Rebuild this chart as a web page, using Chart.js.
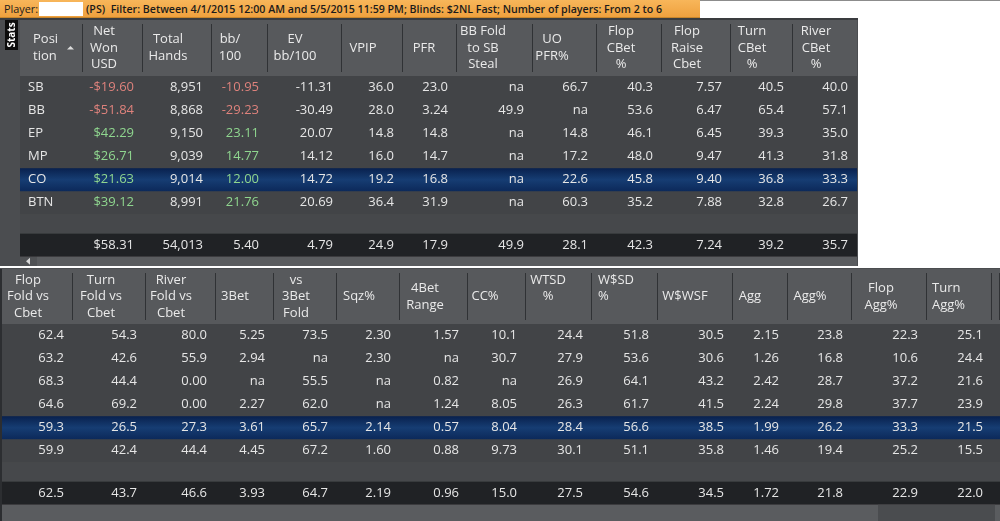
<!DOCTYPE html>
<html>
<head>
<meta charset="utf-8">
<title>Stats by position</title>
<script src="https://cdn.jsdelivr.net/npm/chart.js@4.4.0/dist/chart.umd.min.js"></script>
<style>
    html, body { margin: 0; padding: 0; width: 1000px; height: 521px; overflow: hidden; background: #fff; }
    #filter-bar {
        position: absolute; left: 0; top: 0; width: 700px; height: 18px;
        background: linear-gradient(#f8b65a, #efa13e); border-bottom: 1px solid #c8862c; box-sizing: border-box;
        font-family: "Open Sans", sans-serif; color: #1b1b1b; white-space: pre;
    }
    #filter-bar span { position: absolute; top: 0; line-height: 17px; transform-origin: 0 50%; }
    #player-label { left: 4px; font-size: 11.5px; }
    #player-box { position: absolute; left: 39px; top: 2px; width: 44px; height: 14px; background: #fff; }
    #filter-text { left: 86px; font-size: 11.5px; font-weight: 600; }
    #top-line { position: absolute; left: 700px; top: 0; width: 300px; height: 1px; background: #8c8c8c; }
    canvas { position: absolute; left: 0; }
    #top-table { top: 18px; }
    #bottom-table { top: 268px; }
</style>
</head>
<body>
<div id="filter-bar">
    <span id="player-label">Player:</span>
    <div id="player-box"></div>
    <span id="filter-text">(PS)  Filter: Between 4/1/2015 12:00 AM and 5/5/2015 11:59 PM; Blinds: $2NL Fast; Number of players: From 2 to 6</span>
</div>
<div id="top-line"></div>
<canvas id="top-table" width="858" height="248"></canvas>
<canvas id="bottom-table" width="1000" height="253"></canvas>

<script>
// --- DATA ---
const positions = ['SB', 'BB', 'EP', 'MP', 'CO', 'BTN'];
const selectedPosition = 'CO';

// upper grid
const topHeaders = ['Posi\ntion', 'Net\nWon\nUSD', 'Total\nHands', 'bb/\n100', 'EV\nbb/100', 'VPIP', 'PFR',
    'BB Fold\nto SB\nSteal', 'UO\nPFR%', 'Flop\nCBet\n%', 'Flop\nRaise\nCbet', 'Turn\nCBet\n%', 'River\nCBet\n%'];
const netWonUsd = [-19.60, -51.84, 42.29, 26.71, 21.63, 39.12];
const totalHands = [8951, 8868, 9150, 9039, 9014, 8991];
const bbPer100 = [-10.95, -29.23, 23.11, 14.77, 12.00, 21.76];
const evBbPer100 = [-11.31, -30.49, 20.07, 14.12, 14.72, 20.69];
const vpip = [36.0, 28.0, 14.8, 16.0, 19.2, 36.4];
const pfr = [23.0, 3.24, 14.8, 14.7, 16.8, 31.9];
const bbFoldToSbSteal = [null, 49.9, null, null, null, null];
const uoPfr = [66.7, null, 14.8, 17.2, 22.6, 60.3];
const flopCbet = [40.3, 53.6, 46.1, 48.0, 45.8, 35.2];
const flopRaiseCbet = [7.57, 6.47, 6.45, 9.47, 9.40, 7.88];
const turnCbet = [40.5, 65.4, 39.3, 41.3, 36.8, 32.8];
const riverCbet = [40.0, 57.1, 35.0, 31.8, 33.3, 26.7];
const topTotals = [null, 58.31, 54013, 5.40, 4.79, 24.9, 17.9, 49.9, 28.1, 42.3, 7.24, 39.2, 35.7];

// lower grid
const bottomHeaders = ['Flop\nFold vs\nCbet', 'Turn\nFold vs\nCbet', 'River\nFold vs\nCbet', '3Bet', 'vs\n3Bet\nFold',
    'Sqz%', '4Bet\nRange', 'CC%', 'WTSD\n%\n', 'W$SD\n%\n', 'W$WSF', 'Agg', 'Agg%', 'Flop\nAgg%', 'Turn\nAgg%', ''];
const flopFoldVsCbet = [62.4, 63.2, 68.3, 64.6, 59.3, 59.9];
const turnFoldVsCbet = [54.3, 42.6, 44.4, 69.2, 26.5, 42.4];
const riverFoldVsCbet = [80.0, 55.9, 0.00, 0.00, 27.3, 44.4];
const threeBet = [5.25, 2.94, null, 2.27, 3.61, 4.45];
const vs3BetFold = [73.5, null, 55.5, 62.0, 65.7, 67.2];
const squeeze = [2.30, 2.30, null, null, 2.14, 1.60];
const fourBetRange = [1.57, null, 0.82, 1.24, 0.57, 0.88];
const coldCall = [10.1, 30.7, null, 8.05, 8.04, 9.73];
const wtsd = [24.4, 27.9, 26.9, 26.3, 28.4, 30.1];
const wonAtShowdown = [51.8, 53.6, 64.1, 61.7, 56.6, 51.1];
const wonWhenSawFlop = [30.5, 30.6, 43.2, 41.5, 38.5, 35.8];
const agg = [2.15, 1.26, 2.42, 2.24, 1.99, 1.46];
const aggPct = [23.8, 16.8, 28.7, 29.8, 26.2, 19.4];
const flopAggPct = [22.3, 10.6, 37.2, 37.7, 33.3, 25.2];
const turnAggPct = [25.1, 24.4, 21.6, 23.9, 21.5, 15.5];
const bottomTotals = [62.5, 43.7, 46.6, 3.93, 64.7, 2.19, 0.96, 15.0, 27.5, 54.6, 34.5, 1.72, 21.8, 22.9, 22.0, null];

// --- LAYOUT ---
const TOTAL_POS = 6.84;          // total row sits below one empty slot
const ROW_FONT = '13px "Open Sans"';
const HEAD_FONT = '13px "Open Sans"';
const HEAD_LINE = 16.7;
const CELL_PAD = 9;
const topWidths = [63, 60, 69, 56, 74, 61, 54, 76, 64, 65, 69, 62, 64];
const topHeadX = [13, 21, 25, 18, 27, 21, 21, 26, 19, 24, 25, 21, 23];
const bottomWidths = [73, 73, 70, 58, 63, 63, 68, 58, 66, 66, 75, 55, 64, 75, 65, 8];
const bottomHeadX = [28, 28, 25, 19, 22, 22, 25, 17, 22, 6, 27, 17, 22, 29, 5, 0];

const COLORS = {
    frame: '#4b4d50', header: '#57595c', sep: '#303235', row: '#424447', gap: '#46484b',
    total: '#202225', text: '#e6e6e6', head: '#eaeaea', neg: '#de827c', pos: '#8fd68f',
    scroll: '#5a5c5f', track: '#4a4c4f'
};

function formatCell(kind, v) {
    if (kind === 'text') return v == null ? '' : v;
    if (v == null) return 'na';
    if (kind === 'usd') return (v < 0 ? '-' : '') + '$' + Math.abs(v).toFixed(2);
    if (kind === 'int') return v.toLocaleString('en-US');
    if (kind === 'bb') return v.toFixed(2);
    return Math.abs(v) < 10 ? v.toFixed(2) : v.toFixed(1);
}

const topColumns = [
    { values: positions, kind: 'text', align: 'left' },
    { values: netWonUsd, kind: 'usd', signed: true },
    { values: totalHands, kind: 'int' },
    { values: bbPer100, kind: 'bb', signed: true },
    { values: evBbPer100, kind: 'bb' },
    { values: vpip }, { values: pfr }, { values: bbFoldToSbSteal }, { values: uoPfr },
    { values: flopCbet }, { values: flopRaiseCbet }, { values: turnCbet }, { values: riverCbet }
];
const bottomColumns = [flopFoldVsCbet, turnFoldVsCbet, riverFoldVsCbet, threeBet, vs3BetFold, squeeze,
    fourBetRange, coldCall, wtsd, wonAtShowdown, wonWhenSawFlop, agg, aggPct, flopAggPct, turnAggPct, null]
    .map(values => ({ values }));

const topTable = {
    headers: topHeaders, columns: topColumns, totals: topTotals,
    widths: topWidths, headX: topHeadX, headLeftAlign: [0],
    headerTop: 2, headerLeft: 20, padding: { top: 58, bottom: 10, left: 20, right: 1 },
    sortColumn: 0, statsTab: true, lastSep: false
};
const bottomTable = {
    headers: bottomHeaders, columns: bottomColumns, totals: bottomTotals,
    widths: bottomWidths, headX: bottomHeadX, headLeftAlign: [9, 14],
    headerTop: 1, headerLeft: 0, padding: { top: 56, bottom: 17, left: 0, right: 0 },
    sortColumn: -1, statsTab: false, lastSep: true
};

// --- DRAWING ---
function gridPlugin(t) {
    return {
        id: 'statGrid',
        afterDraw(chart) {
            const { ctx, chartArea: area, scales: { x, y } } = chart;
            const W = chart.width, H = chart.height;
            const edges = [0];
            t.widths.forEach(w => edges.push(edges[edges.length - 1] + w));
            const px = edges.map(v => x.getPixelForValue(v));
            const half = (y.getPixelForValue(1) - y.getPixelForValue(0)) / 2;
            const rowTop = r => y.getPixelForValue(r) - half;
            const right = px[px.length - 1];

            ctx.save();
            // frame + header band
            ctx.fillStyle = COLORS.frame;
            ctx.fillRect(0, 0, W, H);
            if (t.statsTab) {
                ctx.fillStyle = '#3a3c3f';
                ctx.fillRect(0, 0, W, t.headerTop);
            }
            ctx.fillStyle = COLORS.header;
            ctx.fillRect(t.headerLeft, t.headerTop, right - t.headerLeft, area.top - t.headerTop);

            // body rows, empty slot and totals band
            const endRows = rowTop(positions.length);
            const totalTop = rowTop(TOTAL_POS);
            ctx.fillStyle = COLORS.row;
            ctx.fillRect(area.left, area.top, right - area.left, endRows - area.top);
            ctx.fillStyle = COLORS.gap;
            ctx.fillRect(area.left, endRows, right - area.left, totalTop - endRows);
            ctx.fillStyle = COLORS.total;
            ctx.fillRect(area.left, totalTop, right - area.left, 2 * half);

            const sel = positions.indexOf(selectedPosition);
            const selTop = rowTop(sel);
            const grad = ctx.createLinearGradient(0, selTop, 0, selTop + 2 * half);
            grad.addColorStop(0, '#09214e');
            grad.addColorStop(0.5, '#163d73');
            grad.addColorStop(1, '#0c295a');
            ctx.fillStyle = grad;
            ctx.fillRect(area.left, selTop, right - area.left, 2 * half);

            // scrollbar strip
            const sbTop = totalTop + 2 * half;
            if (t.statsTab) {
                ctx.fillStyle = '#505255';
                ctx.fillRect(area.left, sbTop, 17, H - sbTop);
                ctx.fillStyle = COLORS.scroll;
                ctx.fillRect(area.left + 17, sbTop, right - area.left - 17, H - sbTop);
                ctx.fillStyle = '#d8d8d8';
                const cy = (sbTop + H) / 2;
                ctx.beginPath();
                ctx.moveTo(area.left + 6, cy);
                ctx.lineTo(area.left + 10, cy - 3.5);
                ctx.lineTo(area.left + 10, cy + 3.5);
                ctx.fill();
            } else {
                ctx.fillStyle = COLORS.scroll;
                ctx.fillRect(0, sbTop, W, H - sbTop);
                ctx.fillStyle = COLORS.track;
                ctx.fillRect(878, sbTop, 117, H - sbTop);
                ctx.fillStyle = '#2c2e31';
                ctx.fillRect(0, t.headerTop, 2, H - t.headerTop);
            }

            // header separators
            ctx.fillStyle = COLORS.sep;
            const sepCount = t.lastSep ? px.length - 1 : px.length - 2;
            for (let i = 1; i <= sepCount; i++) {
                ctx.fillRect(Math.round(px[i]) - 1, t.headerTop + 4, 1, area.top - t.headerTop - 8);
            }

            // header text
            ctx.font = HEAD_FONT;
            ctx.fillStyle = COLORS.head;
            ctx.textBaseline = 'middle';
            const headCy = (t.headerTop + area.top) / 2;
            t.headers.forEach((title, c) => {
                const lines = title.split('\n');
                const leftAlign = t.headLeftAlign.includes(c);
                ctx.textAlign = leftAlign ? 'left' : 'center';
                lines.forEach((line, i) => {
                    const ly = headCy + (i - (lines.length - 1) / 2) * HEAD_LINE;
                    ctx.fillText(line, px[c] + t.headX[c], ly);
                });
            });
            if (t.sortColumn >= 0) {
                const sx = px[t.sortColumn] + 47;
                ctx.fillStyle = '#dcdcdc';
                ctx.beginPath();
                ctx.moveTo(sx, headCy + 1.5);
                ctx.lineTo(sx + 7, headCy + 1.5);
                ctx.lineTo(sx + 3.5, headCy - 2);
                ctx.fill();
            }

            // cells
            ctx.font = ROW_FONT;
            t.columns.forEach((col, c) => {
                if (!col.values) return;
                const kind = col.kind || 'stat';
                const left = col.align === 'left';
                ctx.textAlign = left ? 'left' : 'right';
                const cx = left ? px[c] + 8 : px[c + 1] - CELL_PAD;
                col.values.forEach((v, r) => {
                    ctx.fillStyle = col.signed ? (v < 0 ? COLORS.neg : COLORS.pos) : COLORS.text;
                    ctx.fillText(formatCell(kind, v), cx, y.getPixelForValue(r));
                });
                if (t.totals[c] != null) {
                    ctx.fillStyle = COLORS.text;
                    ctx.fillText(formatCell(kind, t.totals[c]), cx, y.getPixelForValue(TOTAL_POS));
                }
            });

            // vertical "Stats" tab
            if (t.statsTab) {
                ctx.fillStyle = '#0c0c0c';
                ctx.fillRect(5, 2, 13, 30);
                ctx.save();
                ctx.translate(11.5, 17);
                ctx.rotate(-Math.PI / 2);
                ctx.font = 'bold 10px "Open Sans"';
                ctx.fillStyle = '#ffffff';
                ctx.textAlign = 'center';
                ctx.fillText('Stats', 0, 0.5);
                ctx.restore();
            }
            ctx.restore();
        }
    };
}

function buildGrid(canvasId, t) {
    const span = t.widths.reduce((a, b) => a + b, 0);
    return new Chart(document.getElementById(canvasId), {
        type: 'scatter',
        data: { datasets: [] },
        options: {
            responsive: false,
            animation: false,
            events: [],
            layout: { padding: t.padding },
            plugins: { legend: { display: false }, tooltip: { enabled: false } },
            scales: {
                x: { type: 'linear', display: false, min: 0, max: span },
                y: { type: 'linear', display: false, reverse: true, min: -0.5, max: TOTAL_POS + 0.47 }
            }
        },
        plugins: [gridPlugin(t)]
    });
}

// fit the filter line to the width it takes in the bar
function fitSpan(id, width) {
    const el = document.getElementById(id);
    el.style.transform = `scaleX(${width / el.offsetWidth})`;
}

fitSpan('player-label', 34);
fitSpan('filter-text', 576);
buildGrid('top-table', topTable);
buildGrid('bottom-table', bottomTable);
</script>
</body>
</html>
